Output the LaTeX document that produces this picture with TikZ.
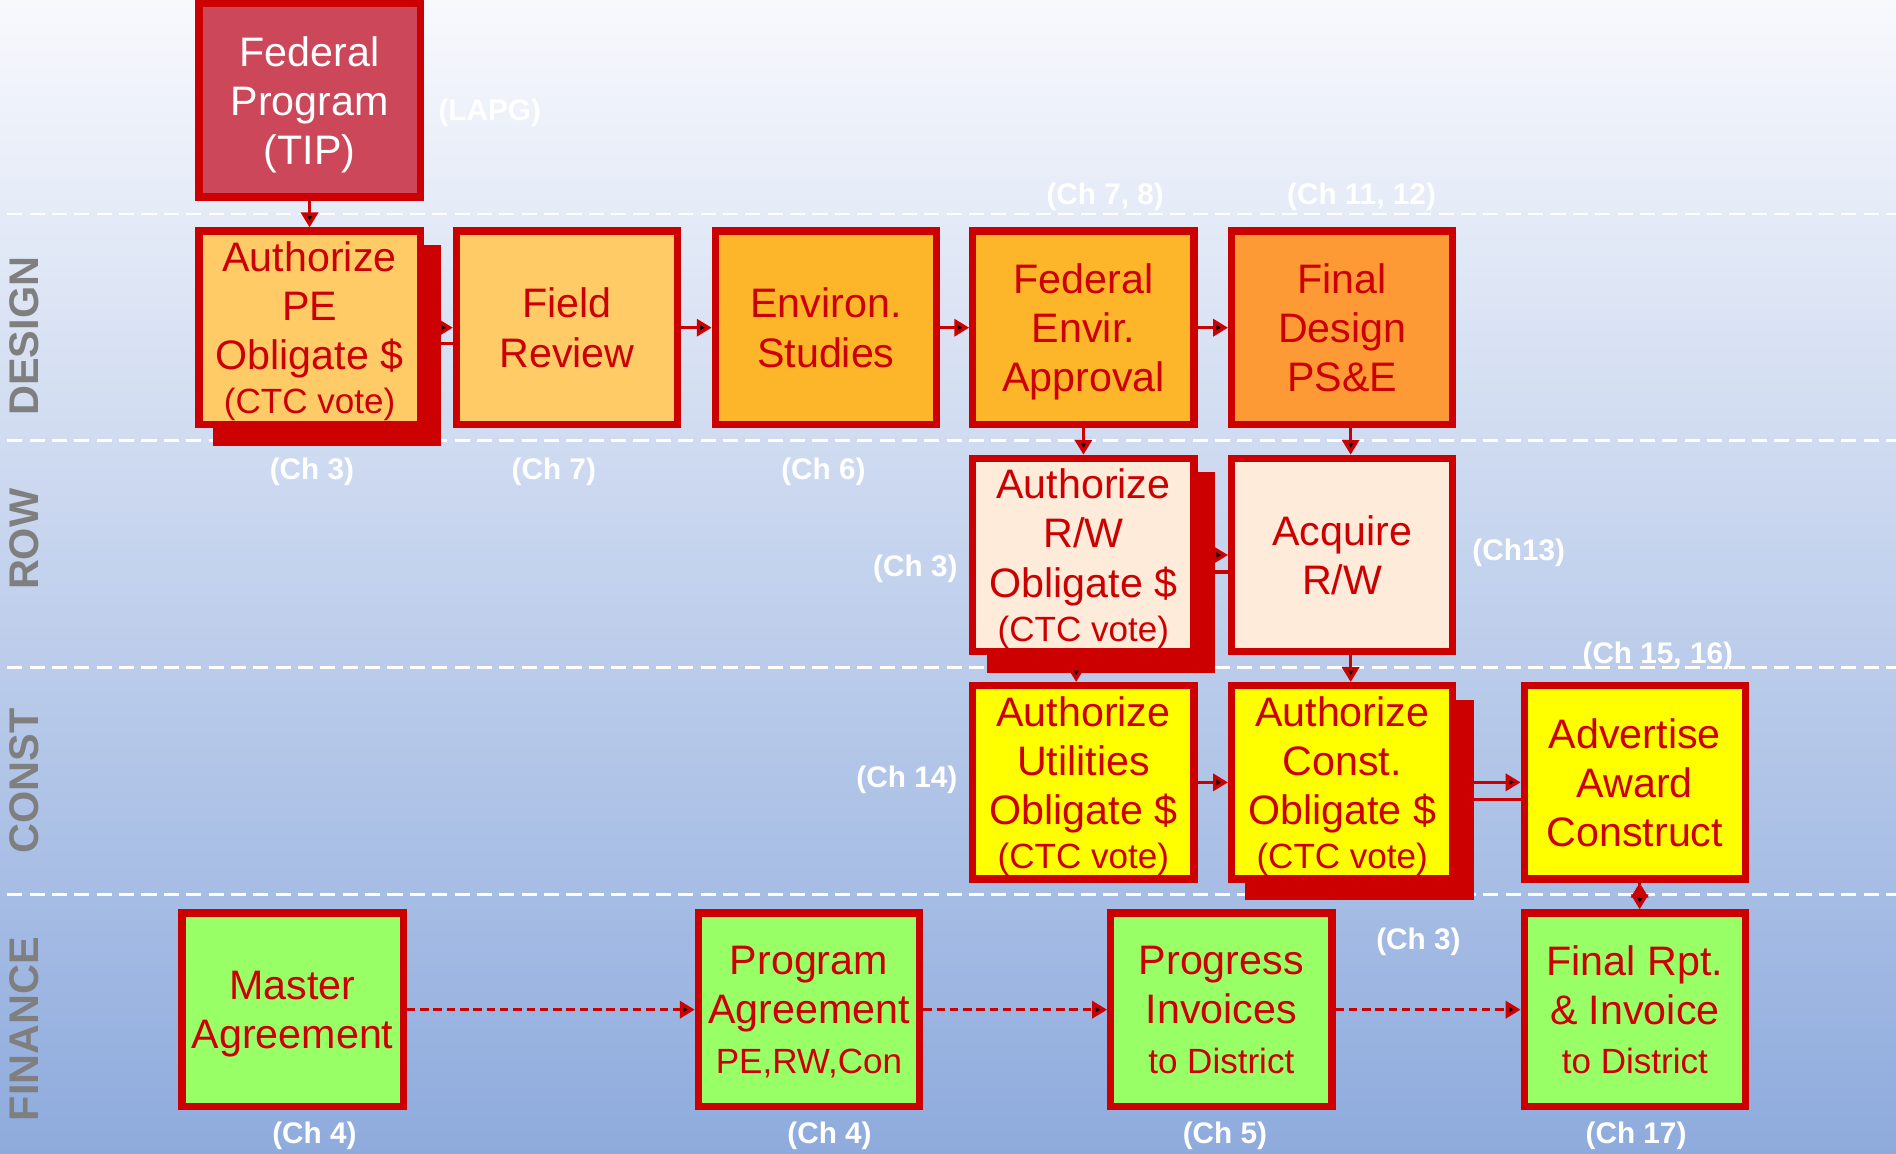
\documentclass[tikz,border=0pt]{standalone}
\usepackage{fontspec}
\setmainfont{Liberation Sans}
\usetikzlibrary{arrows.meta,shadows}
\definecolor{boxred}{HTML}{CC0000}
\definecolor{fedfill}{HTML}{CB4759}
\definecolor{pefill}{HTML}{FFCB67}
\definecolor{envfill}{HTML}{FDB52A}
\definecolor{psefill}{HTML}{FE9A36}
\definecolor{rowfill}{HTML}{FFEBDA}
\definecolor{constfill}{HTML}{FFFF00}
\definecolor{finfill}{HTML}{99FF66}
\definecolor{bgtop}{HTML}{F8F9FD}
\definecolor{bgbot}{HTML}{8EABDD}
\definecolor{lanegray}{HTML}{7F7F7F}
\newcommand{\smtxt}[1]{{\fontsize{16.5}{19}\selectfont #1}}

\begin{document}
\begin{tikzpicture}[x=0.02cm, y=-0.02cm, line width=1.6pt,
  stage/.style={rectangle, draw=boxred, line width=0.12cm, minimum width=3.66cm, minimum height=3.2cm, inner sep=0pt, align=center, text depth=0pt, text=boxred, font=\fontsize{19.4}{23.2}\selectfont},
  shadowed/.style={drop shadow={shadow xshift=0.29cm, shadow yshift=-0.29cm, fill=boxred, draw=boxred, opacity=1}},
  lane/.style={rotate=90, text=lanegray, font=\fontsize{19.5}{22}\selectfont\bfseries},
  chap/.style={text=white, font=\fontsize{14}{16}\selectfont\bfseries},
  arr/.style={draw=boxred, -{Triangle[length=7pt,width=8pt]}},
  lanesep/.style={white, line width=0.045cm, dash pattern=on 0.25cm off 0.12cm}]
\useasboundingbox (0,0) rectangle (1568,954);
\shade[top color=bgtop, bottom color=bgbot] (0,0) rectangle (1568,954);
\foreach \y in {177,364,552,740}
  \draw[lanesep] (6,\y) -- (1568,\y);

% lanes
\node[lane] (design) at (20,278) {DESIGN};
\node[lane] (row) at (20,446) {ROW};
\node[lane] (const) at (20,646) {CONST};
\node[lane] (finance) at (20,851) {FINANCE};

% steps
\node[stage, fill=fedfill, text=white] (fed) at (256,83) {Federal\\Program\\(TIP)};
\node[stage, fill=pefill, shadowed] (pe) at (256,271) {Authorize\\PE\\Obligate \$\\[-2.5pt]\smtxt{(CTC vote)}};
\node[stage, fill=pefill] (field) at (469,271) {Field\\Review};
\node[stage, fill=envfill] (env) at (683,271) {Environ.\\Studies};
\node[stage, fill=envfill] (fea) at (896,271) {Federal\\Envir.\\Approval};
\node[stage, fill=psefill] (fd) at (1110,271) {Final\\Design\\PS\&E};
\node[stage, fill=rowfill, shadowed] (rw) at (896,459) {Authorize\\R/W\\Obligate \$\\[-2.5pt]\smtxt{(CTC vote)}};
\node[stage, fill=rowfill] (acq) at (1110,459) {Acquire\\R/W};
\node[stage, fill=constfill] (util) at (896,647) {Authorize\\Utilities\\Obligate \$\\[-2.5pt]\smtxt{(CTC vote)}};
\node[stage, fill=constfill, shadowed] (ac) at (1110,647) {Authorize\\Const.\\Obligate \$\\[-2.5pt]\smtxt{(CTC vote)}};
\node[stage, fill=constfill] (adv) at (1352,647) {Advertise\\Award\\Construct};
\node[stage, fill=finfill] (ma) at (242,835) {Master\\Agreement};
\node[stage, fill=finfill] (pa) at (669,835) {Program\\Agreement\\\smtxt{PE,RW,Con}};
\node[stage, fill=finfill] (pi) at (1010,835) {Progress\\Invoices\\\smtxt{to District}};
\node[stage, fill=finfill] (fr) at (1352,835) {Final Rpt.\\\& Invoice\\\smtxt{to District}};

% chapters
\node[chap] (lapg) at (405,93) {(LAPG)};
\node[chap] (ch78) at (914,163) {(Ch 7, 8)};
\node[chap] (ch1112) at (1126,163) {(Ch 11, 12)};
\node[chap] (chpe) at (258,390) {(Ch 3)};
\node[chap] (chfield) at (458,390) {(Ch 7)};
\node[chap] (chenv) at (681,390) {(Ch 6)};
\node[chap] (chrw) at (757,470) {(Ch 3)};
\node[chap] (chacq) at (1256,457) {(Ch13)};
\node[chap] (chadv) at (1371,542) {(Ch 15, 16)};
\node[chap] (chutil) at (750,645) {(Ch 14)};
\node[chap] (chac) at (1173,779) {(Ch 3)};
\node[chap] (chma) at (260,939) {(Ch 4)};
\node[chap] (chpa) at (686,939) {(Ch 4)};
\node[chap] (chpi) at (1013,939) {(Ch 5)};
\node[chap] (chfr) at (1353,939) {(Ch 17)};

\path[arr]
  (fed) edge (pe)
  (pe) edge (field)
  (field) edge (env)
  (env) edge (fea)
  (fea) edge (fd)
  (fea) edge (rw)
  ([xshift=0.14cm]fd.south) edge ([xshift=0.14cm]acq.north)
  (rw) edge (acq)
  ([xshift=-0.12cm]rw.south) edge ([xshift=-0.12cm]util.north)
  ([xshift=0.14cm]acq.south) edge ([xshift=0.14cm]ac.north)
  (util) edge (ac)
  (ac) edge (adv)
  ([xshift=0.08cm]adv.south) edge ([xshift=0.08cm]fr.north);
\draw[boxred] ([yshift=-0.26cm]pe.east) -- ([yshift=-0.26cm]field.west);
\draw[boxred] ([yshift=-0.28cm]rw.east) -- ([yshift=-0.28cm]acq.west);
\draw[boxred] ([yshift=-0.28cm]ac.east) -- ([yshift=-0.28cm]adv.west);
\path[arr, dash pattern=on 0.14cm off 0.08cm]
  (ma) edge (pa)
  (pa) edge (pi)
  (pi) edge (fr);
\end{tikzpicture}
\end{document}
